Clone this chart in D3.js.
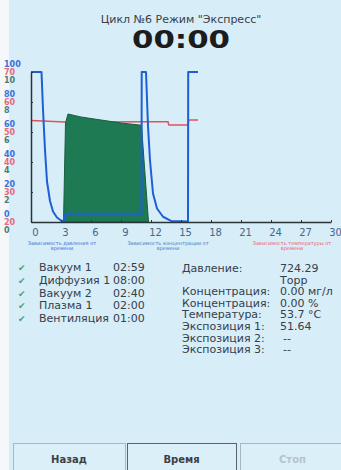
<!DOCTYPE html>
<html>
<head>
<meta charset="utf-8">
<script src="https://cdn.jsdelivr.net/npm/d3@7"></script>
<style>
  html, body { margin: 0; padding: 0; background: #fff; }
  svg { display: block; font-family: "DejaVu Sans", sans-serif; }
</style>
</head>
<body>
<div id="chart"></div>
<script>
// axis ticks
const timeTicks = [0, 3, 6, 9, 12, 15, 18, 21, 24, 27, 30];
const pressureTicks = [0, 20, 40, 60, 80, 100];
const tempTicks = [20, 30, 40, 50, 60, 70];
const concTicks = [0, 2, 4, 6, 8, 10];

// pressure (blue), minutes / value
const pressureTime  = [0, 1.05, 1.2, 1.4, 1.6, 1.9, 2.2, 2.6, 3.0, 3.3, 3.35, 11.05, 11.07, 11.5, 11.7, 11.9, 12.2, 12.6, 13.2, 14.0, 15.7, 15.72, 16.7];
const pressureValue = [100, 100, 75, 48, 27, 14, 7, 3, 1, 0.5, 5.5, 5.5, 100, 100, 64, 41, 19, 9, 3.5, 0.7, 0.3, 100, 100];

// concentration (green)
const concTime  = [3.25, 3.45, 3.7, 5, 7, 9, 11.05, 11.4, 11.75];
const concValue = [0, 6.6, 7.2, 7.0, 6.8, 6.6, 6.45, 3.2, 0];

// temperature (red)
const tempTime  = [0, 3.4, 7, 11, 13.7, 13.78, 15.7, 15.78, 16.7];
const tempValue = [53.8, 53.3, 53.3, 53.4, 53.4, 52.3, 52.3, 54.0, 54.0];

const legendLines = [
  ["Зависимость давления от", "времени"],
  ["Зависимость концентрации от", "времени"],
  ["Зависимость температуры от", "времени"]
];

const stageNames = ["Вакуум 1", "Диффузия 1", "Вакуум 2", "Плазма 1", "Вентиляция"];
const stageTimes = ["02:59", "08:00", "02:40", "02:00", "01:00"];
const paramNames = ["Давление:", "", "Концентрация:", "Концентрация:", "Температура:", "Экспозиция 1:", "Экспозиция 2:", "Экспозиция 3:"];
const paramValues = ["724.29", "Торр", "0.00 мг/л", "0.00 %", "53.7 °C", "51.64", "--", "--"];
const buttons = ["Назад", "Время", "Стоп"];

const W = 341, H = 470;
const svg = d3.select('#chart').append('svg').attr('width', W).attr('height', H);

// background
svg.append('rect').attr('width', W).attr('height', H).attr('fill', '#d7edf8');
svg.append('rect').attr('width', 9).attr('height', H).attr('fill', '#f4f8fa');

// header
svg.append('text').attr('x', 181).attr('y', 23).attr('text-anchor', 'middle')
  .attr('font-size', 11).attr('fill', '#3a4048').text('Цикл №6 Режим "Экспресс"');
svg.append('text').attr('x', 181).attr('y', 48).attr('text-anchor', 'middle')
  .attr('font-size', 25).attr('font-weight', 'bold').attr('fill', '#1c1c1c')
  .attr('textLength', 98).attr('lengthAdjust', 'spacingAndGlyphs').text('00:00');

// scales
const x = d3.scaleLinear().domain([0, 30]).range([31, 331]);
const yP = d3.scaleLinear().domain([0, 100]).range([222, 72]);
const yT = d3.scaleLinear().domain([20, 70]).range([222, 72]);
const yC = d3.scaleLinear().domain([0, 10]).range([222, 72]);

// temperature line
const tempData = tempTime.map((t, i) => [t, tempValue[i]]);
svg.append('path').datum(tempData)
  .attr('fill', 'none').attr('stroke', '#e4505c').attr('stroke-width', 1.5)
  .attr('d', d3.line().x(d => x(d[0])).y(d => yT(d[1])));

// concentration area
const concData = concTime.map((t, i) => [t, concValue[i]]);
svg.append('path').datum(concData)
  .attr('fill', '#1d7a52').attr('stroke', '#17603f').attr('stroke-width', 1)
  .attr('d', d3.area().x(d => x(d[0])).y0(yC(0)).y1(d => yC(d[1])));

// pressure line
const pressData = pressureTime.map((t, i) => [t, pressureValue[i]]);
svg.append('path').datum(pressData)
  .attr('fill', 'none').attr('stroke', '#1f5fd6').attr('stroke-width', 2)
  .attr('stroke-linejoin', 'round')
  .attr('d', d3.line().x(d => x(d[0])).y(d => yP(d[1])));

// x axis
const xAxis = svg.append('g').attr('transform', 'translate(0,222)')
  .call(d3.axisBottom(x).tickValues(timeTicks).tickSize(-2).tickSizeOuter(0));
xAxis.select('.domain').attr('stroke', '#2a3438').attr('stroke-width', 1.5);
xAxis.selectAll('.tick line').attr('stroke', '#2a3438');
xAxis.selectAll('.tick text').attr('x', 4).attr('y', 7)
  .attr('font-size', 10).attr('font-family', 'DejaVu Sans').attr('fill', '#45678a');

// y axes (three label sets on one line)
function yAxis(scale, ticks, color, dy, main) {
  const g = svg.append('g').attr('transform', 'translate(31,0)')
    .call(d3.axisLeft(scale).tickValues(ticks).tickSize(main ? -2 : 0).tickSizeOuter(0));
  if (main) {
    g.select('.domain').attr('stroke', '#2a3438').attr('stroke-width', 1.5);
    g.selectAll('.tick line').attr('stroke', '#2a3438');
  } else {
    g.select('.domain').remove();
  }
  g.selectAll('.tick text').attr('x', -27).attr('dy', dy).attr('text-anchor', 'start')
    .attr('dominant-baseline', 'middle').attr('font-size', 8).attr('font-weight', 'bold')
    .attr('font-family', 'DejaVu Sans').attr('fill', color);
}
yAxis(yP, pressureTicks, '#3f6fd8', -8.5, false);
yAxis(yC, concTicks, '#4b7d74', 8, false);
yAxis(yT, tempTicks, '#e86a78', 0, true);

// legend
const legendX = [62, 168, 292];
const legendColor = ['#3f6fd8', '#3a7fc8', '#f06070'];
legendLines.forEach((lines, i) => {
  lines.forEach((s, j) => {
    svg.append('text').attr('x', legendX[i]).attr('y', 245 + j * 5)
      .attr('text-anchor', 'middle').attr('font-size', 5).attr('fill', legendColor[i]).text(s);
  });
});

// stage list
stageNames.forEach((s, i) => {
  const y = 271 + i * 12.8;
  svg.append('text').attr('x', 18).attr('y', y).attr('font-size', 9).attr('fill', '#4aa070').text('✔');
  svg.append('text').attr('x', 39).attr('y', y).attr('font-size', 11).attr('fill', '#34404c').text(s);
  svg.append('text').attr('x', 113).attr('y', y).attr('font-size', 11).attr('fill', '#34404c').text(stageTimes[i]);
});

// parameters
paramNames.forEach((s, i) => {
  const y = 272 + i * 11.6;
  svg.append('text').attr('x', 182).attr('y', y).attr('font-size', 11).attr('fill', '#34404c').text(s);
  svg.append('text').attr('x', paramValues[i] === '--' ? 283 : 280).attr('y', y)
    .attr('font-size', 11).attr('fill', '#34404c').text(paramValues[i]);
});

// buttons
const btnX = [13, 127, 240];
const btnW = [112, 109, 105];
buttons.forEach((b, i) => {
  svg.append('rect').attr('x', btnX[i] + 0.5).attr('y', 443.5).attr('width', btnW[i]).attr('height', 32)
    .attr('fill', '#dbeff9').attr('stroke', i === 1 ? '#5a6268' : '#a8b8c2');
  svg.append('text').attr('x', btnX[i] + btnW[i] / 2).attr('y', 463).attr('text-anchor', 'middle')
    .attr('font-size', 10).attr('font-weight', 'bold')
    .attr('fill', i === 2 ? '#b4c4cc' : '#3a4048').text(b);
});
</script>
</body>
</html>
